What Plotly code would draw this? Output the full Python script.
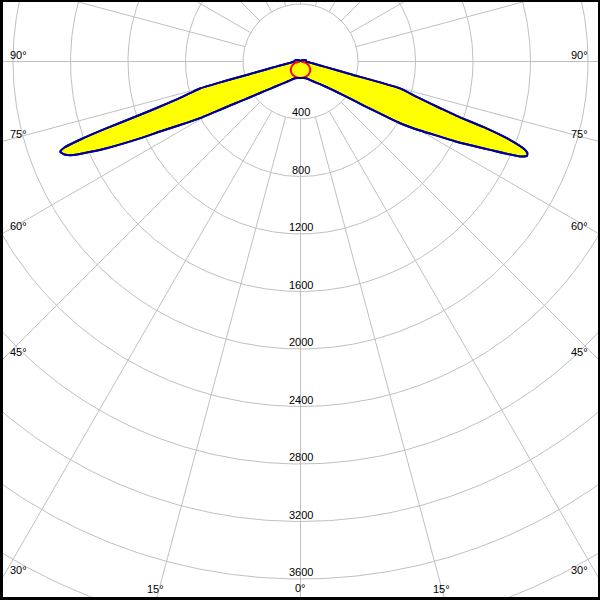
import numpy as np
import plotly.graph_objects as go

# ---- data (luminous intensity, cd) ----
radial_ticks = [400, 800, 1200, 1600, 2000, 2400, 2800, 3200, 3600]
grid_circles = [400, 800, 1200, 1600, 2000, 2400, 2800, 3200, 3600, 4000, 4400]
spoke_angles = list(range(0, 360, 15))
side_label_angles = [90, 75, 60, 45, 30]
bottom_label_angles = [-15, 0, 15]

# C0-C180 plane (blue), gamma in degrees from nadir, negative = left
gamma_c0 = [-180, -140, -120, -110, -100, -90, -88, -83, -80, -78, -77, -76, -75.5, -75, -74, -73,
            -72.2, -71.6, -71, -70.5, -70, -69.4, -68.5, -67.6, -65.9, -64.4, -63.5, -62.2, -60.6,
            -59.5, -58, -56.6, -54.7, -52.1, -48.2, -41.6, -36.4, -29, -18, -10, 0,
            10, 18, 29, 36.4, 41.6, 48, 51.5, 54, 56, 58.2, 60, 61.7, 62.8, 65, 66.6, 67.4,
            68.1, 68.7, 69.6, 70.3, 70.8, 71.5, 73, 74.9, 75.8, 77.6, 80.2, 83.4, 88, 90,
            100, 110, 120, 140, 180]
I_c0 = [5, 10, 20, 30, 40, 45, 48, 70, 110, 180, 240, 380, 550, 720, 800, 900,
        1030, 1180, 1430, 1620, 1745, 1785, 1765, 1709, 1477, 1238, 1092, 947, 803,
        690, 578, 504, 430, 357, 285, 215, 182, 150, 123, 117, 115,
        117, 123, 150, 182, 215, 290, 370, 470, 600, 815, 960, 1102, 1221, 1455, 1665, 1707,
        1700, 1663, 1531, 1350, 1150, 1030, 850, 717, 355, 175, 102, 67, 43, 40,
        40, 30, 20, 10, 5]

# C90-C270 plane (red)
gamma_c90 = [-90, -75, -60, -45, -30, -15, 0, 15, 30, 45, 60, 75, 90]
I_c90 = [5, 40, 72, 95, 108, 113, 115, 113, 108, 95, 72, 40, 5]

# ---- geometry of the picture ----
S = 0.14375          # px per cd
PW = 595             # plot area size in px
CX, CY = 297.5, 59.5  # centre inside plot area (px)
x_range = [-CX / S, (PW - CX) / S]
y_range = [-(PW - CY) / S, CY / S]


def to_xy(g, r):
    g = np.radians(np.asarray(g, dtype=float))
    r = np.asarray(r, dtype=float)
    return r * np.sin(g), -r * np.cos(g)


fig = go.Figure()

# grid circles
cx, cy = [], []
t = np.linspace(0, 2 * np.pi, 721)
for r in grid_circles:
    cx += list(r * np.cos(t)) + [None]
    cy += list(r * np.sin(t)) + [None]
fig.add_trace(go.Scatter(x=cx, y=cy, mode="lines", line=dict(color="#c0c0c0", width=1),
                         hoverinfo="skip", showlegend=False))

# spokes
sx, sy = [], []
for a in spoke_angles:
    x0, y0 = to_xy(a, 400)
    x1, y1 = to_xy(a, 6000)
    sx += [float(x0), float(x1), None]
    sy += [float(y0), float(y1), None]
fig.add_trace(go.Scatter(x=sx, y=sy, mode="lines", line=dict(color="#c0c0c0", width=1),
                         hoverinfo="skip", showlegend=False))

# blue curve fill
bx, by = to_xy(gamma_c0, I_c0)
fig.add_trace(go.Scatter(x=bx, y=by, mode="lines", fill="toself", fillcolor="#ffff00",
                         line=dict(color="#0000a0", width=2, shape="spline", smoothing=0.5),
                         showlegend=False))
# red curve
rx, ry = to_xy(gamma_c90, I_c90)
fig.add_trace(go.Scatter(x=rx, y=ry, mode="lines", line=dict(color="#ff0000", width=2, shape="spline"),
                         showlegend=False))
# blue line on top
fig.add_trace(go.Scatter(x=bx, y=by, mode="lines",
                         line=dict(color="#0000a0", width=2, shape="spline", smoothing=0.5),
                         showlegend=False))

font = dict(family="Liberation Sans, Arial, sans-serif", size=11, color="black")
ann = []
for r in radial_ticks:
    ann.append(dict(x=0, y=-r + 7 / S, text=str(r), showarrow=False, font=font,
                    xanchor="center", yanchor="middle"))
for a in side_label_angles:
    ar = np.radians(a)
    yy = -(CX / S) * np.cos(ar) / np.sin(ar) + 7 / S
    ann.append(dict(x=-(CX - 15.3) / S, y=yy, text=f"{a}°", showarrow=False, font=font,
                    xanchor="center", yanchor="middle"))
    ann.append(dict(x=(CX - 18.5) / S, y=yy, text=f"{a}°", showarrow=False, font=font,
                    xanchor="center", yanchor="middle"))
for a in bottom_label_angles:
    ar = np.radians(a)
    xx = ((PW - CY) / S) * np.tan(ar) - 2 / S * (1 if a != 0 else 0)
    yy = -(PW - CY - 8) / S if a != 0 else -(PW - CY - 9.5) / S
    ann.append(dict(x=xx, y=yy, text=f"{abs(a)}°", showarrow=False, font=font,
                    xanchor="center", yanchor="middle"))

fig.update_layout(
    width=600, height=600,
    margin=dict(l=3, r=2, t=2, b=3),
    paper_bgcolor="black", plot_bgcolor="white",
    xaxis=dict(range=x_range, visible=False, showgrid=False, zeroline=False, fixedrange=True),
    yaxis=dict(range=y_range, visible=False, showgrid=False, zeroline=False, fixedrange=True),
    annotations=ann,
    showlegend=False,
)
fig.write_html("out.html", config={"displayModeBar": False},
               post_script="document.body.style.margin='0';document.body.style.padding='0';")
